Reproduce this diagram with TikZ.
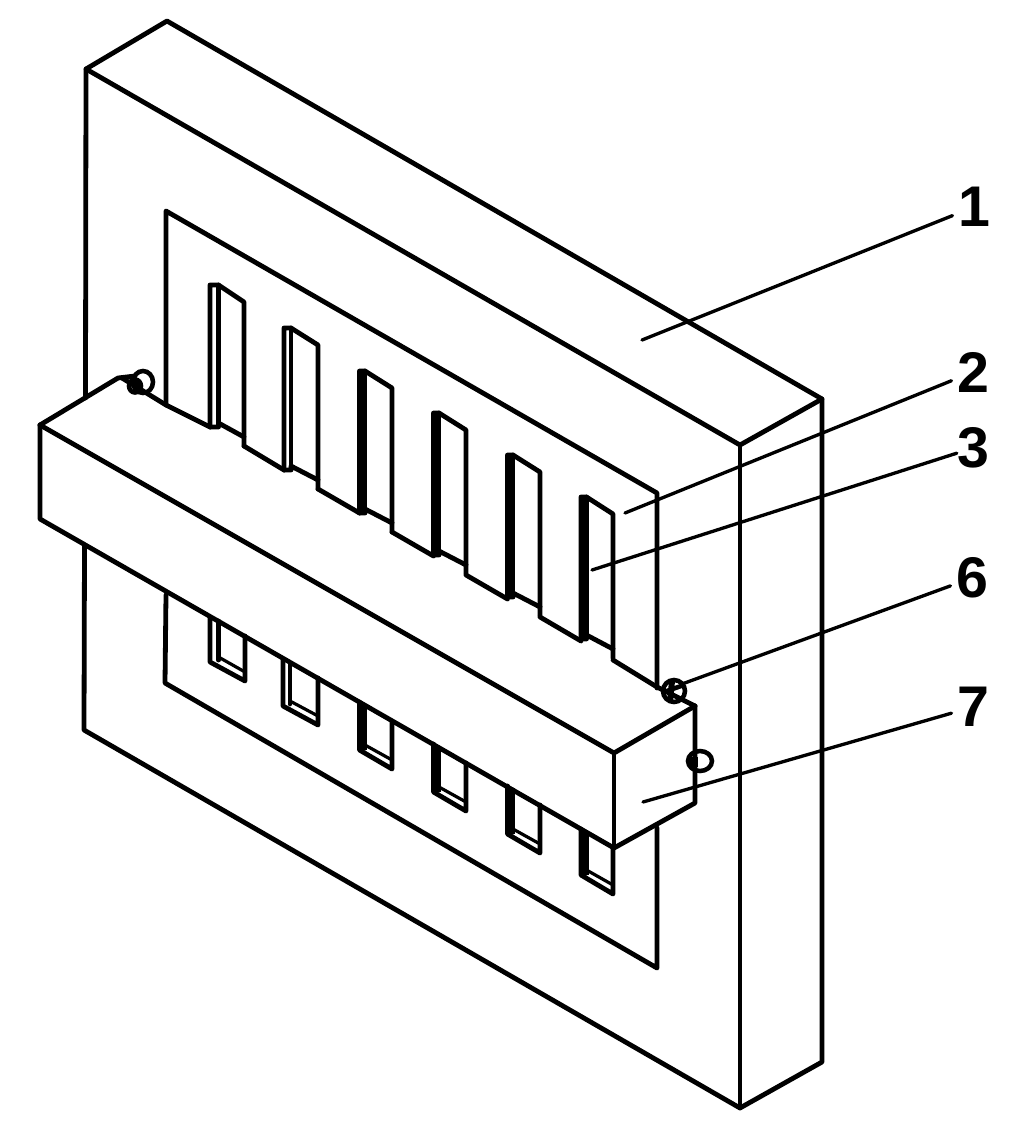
\documentclass[tikz,border=0pt]{standalone}
\usepackage{fontspec}
\setmainfont{Liberation Sans}
\tikzset{
  edge/.style={line width=3.6pt,line cap=round,line join=round,black},
  wall/.style={line width=7.4pt,black},
  leader/.style={line width=2.5pt,line cap=round,black},
  num/.style={font=\fontsize{43}{43}\selectfont\bfseries,inner sep=#1},
  num/.default=4pt,
  nut/.style={line width=3.4pt,black},
}
\begin{document}
\begin{tikzpicture}[x=0.75pt,y=-0.75pt]
\useasboundingbox (0,0) rectangle (1021,1140);
% plate
\draw[edge] (86,69) -- (167,21) -- (822,399) -- (740,445) -- cycle;
\draw[edge] (86,69) -- (85.5,398);
\draw[edge] (84.5,545) -- (84,730) -- (740,1108) -- (822,1062) -- (822,399);
\draw[edge] (740,445) -- (740,1108);
% inner panel
\draw[edge] (166,405) -- (166,211) -- (657,493) -- (657,688);
\draw[edge] (166,595) -- (165,683) -- (657,968) -- (657,828);
% upper slots: left x, top y, bottom y, wall thickness, right x
\foreach \x/\y/\b/\g/\r in {210/285/427/8.5/244,284/328/470/7/318,359.5/371/513/5.5/392,433.5/413/555/5.5/466,507.5/455/597/5.5/540,581/497/639/5.5/613}{
  \draw[edge] (\x,\b) -- (\x,\y) -- (\x+\g,\y) -- (\r,\y+17) -- (\r,\b+19);
  \draw[edge] (\x+\g,\y) -- (\x+\g,\b-3);
  \draw[edge] (\x,\b) -- (\x+\g,\b) -- (\x+\g,\b-4) -- (\r,\b+10);
}
\foreach \x/\y/\b in {362.5/371/513,436.5/413/555,510.5/455/597,584/497/639}{
  \draw[wall] (\x,\y) -- (\x,\b);
}
% box back edge
\draw[edge] (122,378) -- (166,405) -- (210,427);
\foreach \x/\b/\e in {244/446/284,318/489/359.5,392/532/433.5,466/575/507.5,540/617/581}{
  \draw[edge] (\x,\b) -- (\e,\b+24);
}
\draw[edge] (613,660) -- (657,687) -- (695,706);
% lower slots: left x, bottom y, top y, wall thickness, right x
\foreach \x/\y/\t/\g/\r in {210/662/617/8.5/245,283/706/659/7/318,359.5/750/702/5.5/392,433.5/792/744/5.5/466,507.5/834/786/5.5/540,581/875/829/5.5/613}{
  \draw[edge] (\x,\t) -- (\x,\y) -- (\r,\y+19) -- (\r,\t+19);
  \draw[edge] (\x+\g,\t+4) -- (\x+\g,\y-2);
  \draw[line width=2.4pt,black] (\x+\g,\y-5) -- (\r,\y+10);
}
\foreach \x/\t/\y in {362.5/704/750,436.5/746/792,510.5/788/834,584/831/875}{
  \draw[wall] (\x,\t) -- (\x,\y);
}
% box
\draw[edge] (40,425) -- (118,378) -- (135,376);
\draw[edge] (40,425) -- (614,753) -- (695,706);
\draw[edge] (40,425) -- (40,519) -- (614,848) -- (695,803) -- (695,706);
\draw[edge] (614,753) -- (614,848);
% bolts
\draw[nut] (143,382) ellipse (10 and 11);
\draw[nut] (135,386) ellipse (6 and 6.5);
\draw[line width=4.5pt,black] (136,378) -- (136,393);
\draw[nut] (674,691) circle (11);
\draw[line width=4.5pt,black] (672,681) -- (670,702);
\draw[nut] (664,692) -- (684,685);
\draw[nut] (700,761) ellipse (12 and 10);
\draw[line width=7pt,black] (689,762) -- (698,762);
% labels and leaders
\node[num] (n1) at (974,207) {1};
\node[num] (n2) at (973,372) {2};
\node[num=0pt] (n3) at (973,448) {3};
\node[num] (n6) at (972,578) {6};
\node[num] (n7) at (973,707) {7};
\coordinate (a1) at (642,340);
\coordinate (a2) at (625,513);
\coordinate (a3) at (592,570);
\coordinate (a6) at (682,684);
\coordinate (a7) at (643,802);
\draw[leader] (a1) -- (n1);
\draw[leader] (a2) -- (n2);
\draw[leader] (a3) -- (n3);
\draw[leader] (a6) -- (n6);
\draw[leader] (a7) -- (n7);
\end{tikzpicture}
\end{document}
